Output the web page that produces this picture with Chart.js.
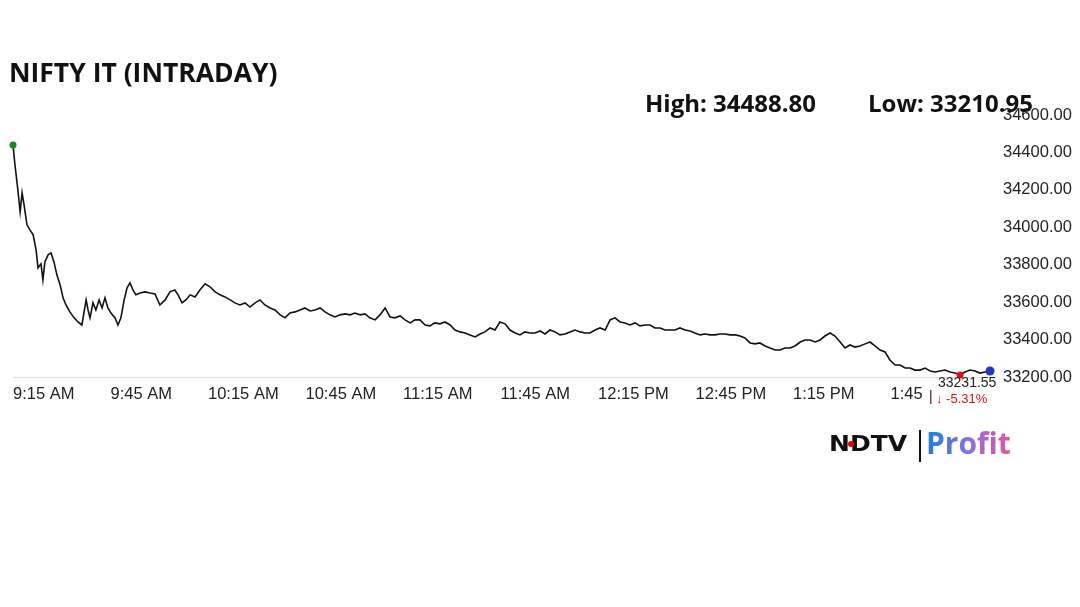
<!DOCTYPE html>
<html><head><meta charset="utf-8">
<script src="https://cdn.jsdelivr.net/npm/chart.js@4"></script>
<style>html,body{margin:0;padding:0;background:#fff}canvas{display:block}</style>
</head><body><canvas id="c" width="1080" height="607"></canvas>
<script>
const title = "NIFTY IT (INTRADAY)";
const highText = "High: 34488.80";
const lowText = "Low: 33210.95";
const lastPrice = "33231.55";
const changeText = "-5.31%";
const tickLabels = ["9:15 AM","9:45 AM","10:15 AM","10:45 AM","11:15 AM","11:45 AM","12:15 PM","12:45 PM","1:15 PM","1:45"];
// minutes after 9:15
const minutes = [0,0.6,1.5,2.2,2.8,3.4,4.3,5.2,6.2,7.1,7.7,8.6,9.2,9.8,10.8,11.7,12.6,13.5,14.5,15.4,16.3,17.5,18.8,20,21.2,22.5,23.1,23.7,24.6,25.5,26.5,27.4,28.3,29.2,30.2,31.4,32.3,33.2,34.2,35.1,36,36.9,37.8,39.1,40.6,42.2,43.7,45.2,46.8,48.3,49.8,50.8,52,53.2,54.5,56,57.5,
59.1,60.6,62.2,63.7,65.2,66.8,68.3,69.8,71.4,72.9,74.5,76,77.5,79.1,80.6,82.2,83.7,85.2,86.8,88.3,89.8,91.4,92.9,94.5,96,97.5,99.1,100.6,102.2,103.7,105.2,106.8,108.3,109.8,111.4,112.9,114.5,116,117.5,119.1,120.6,122.2,123.7,125.2,126.8,128.3,129.8,131.4,132.9,134.5,136,137.5,139.1,140.6,142.2,143.7,145.2,146.8,148.3,149.8,151.4,152.9,154.5,156,157.5,159.1,160.6,162.2,163.7,165.2,166.8,168.3,169.8,171.4,172.9,174.5,176,177.5,179.1,180.6,182.2,183.7,185.2,186.8,188.3,189.8,191.4,192.9,194.5,196,197.5,199.1,200.6,202.2,203.7,205.2,206.8,208.3,209.8,211.4,212.9,214.5,216,217.5,219.1,220.6,222.2,223.7,225.2,226.8,228.3,229.8,231.4,232.9,234.5,236,237.5,239.1,240.6,242.2,243.7,245.2,246.8,248.3,249.8,251.4,252.9,254.5,256,257.5,259.1,260.6,262.2,263.7,265.2,266.8,268.3,269.8,271.4,272.9,274.5,276,277.5,279.1,280.6,282.2,283.7,285.2,286.8,288.3,289.8,291.4,292.9,294.5,296,297.5,299.1,300.6];
const prices = [34440,34334,34200,34083,34184,34120,34013,33986,33960,33879,33783,33805,33719,33815,33853,33863,33815,33746,33692,33623,33585,33548,33516,33494,33478,33612,33558,33516,33596,33558,33612,33569,33623,33569,33540,33516,33478,33516,33612,33676,33703,33665,33639,33649,33655,33649,33644,33585,33612,33655,33665,33639,33596,33612,33639,33628,33665,
33698,33682,33655,33639,33628,33612,33596,33585,33596,33574,33596,33612,33585,33569,33558,33532,33516,33542,33548,33558,33569,33553,33558,33569,33548,33532,33521,33532,33537,33532,33542,33532,33537,33516,33505,33532,33569,33521,33516,33526,33505,33489,33505,33505,33478,33473,33489,33484,33494,33478,33451,33441,33435,33425,33414,33430,33441,33462,33451,33494,33484,33451,33435,33425,33441,33435,33435,33446,33430,33451,33441,33425,33430,33441,33451,33441,33435,33435,33451,33462,33451,33505,33516,33494,33489,33478,33489,33473,33478,33478,33462,33462,33451,33451,33451,33462,33451,33446,33435,33425,33430,33425,33425,33430,33430,33425,33425,33419,33409,33382,33377,33382,33366,33355,33344,33344,33355,33355,33366,33387,33398,33398,33387,33398,33419,33435,33419,33387,33355,33371,33360,33366,33377,33387,33366,33344,33334,33291,33264,33264,33248,33248,33237,33237,33248,33232,33227,33232,33237,33227,33221,33211,33227,33237,33232,33221,33227,33232];
const lowIndex = prices.indexOf(Math.min(...prices));

const annot = {
  id:'annot',
  afterDraw(ch){
    const c=ch.ctx;
    c.save();
    c.fillStyle='#111'; c.textBaseline='middle';
    c.font='bold 26.5px "Open Sans", sans-serif'; c.textAlign='left';
    c.fillText(title,9,74);
    c.font='bold 24px "Open Sans", sans-serif';
    c.fillText(highText,645,105); c.fillText(lowText,868,105);
    c.font='14px "Liberation Sans", Arial, sans-serif';
    c.fillStyle='#fff'; c.fillRect(928,384,70,26);
    c.fillStyle='#222'; c.fillText(lastPrice,938,383); c.fillText('|',929,397);
    c.fillStyle='#e01010'; c.font='13px "Liberation Sans", Arial, sans-serif';
    c.fillText('\u2193 '+changeText,936,399);
    // logo
    c.font='bold 25px "DejaVu Sans", sans-serif'; c.fillStyle='#111';
    c.save(); c.translate(829,445); c.scale(1.0,0.85); c.fillText('NDTV',0,0); c.restore();
    c.fillStyle='#e00'; c.beginPath(); c.arc(851,444,3,0,7); c.fill();
    c.fillStyle='#111'; c.fillRect(919,430,2,32);
    const g=c.createLinearGradient(927,0,1012,0); g.addColorStop(0,'#1e7fe0'); g.addColorStop(0.5,'#8a6ee8'); g.addColorStop(1,'#f0509a');
    c.fillStyle=g; c.font='bold 30px "Open Sans", sans-serif'; c.fillText('Profit',926,445);
    c.restore();
  }
};

new Chart(document.getElementById('c'),{
  type:'line',
  data:{datasets:[
    {data:[{x:minutes[0],y:prices[0]}],showLine:false,pointRadius:3.5,pointBackgroundColor:'#1a8a1a',pointBorderWidth:0,clip:false},
    {data:[{x:minutes[lowIndex],y:prices[lowIndex]}],showLine:false,pointRadius:3.5,pointBackgroundColor:'#e01010',pointBorderWidth:0,clip:false},
    {data:[{x:minutes[minutes.length-1],y:prices[prices.length-1]}],showLine:false,pointRadius:4.5,pointBackgroundColor:'#2233cc',pointBorderWidth:0,clip:false},
    {data:minutes.map((m,i)=>({x:m,y:prices[i]})),borderColor:'#111',borderWidth:1.6,pointRadius:0,tension:0,clip:false}
  ]},
  options:{responsive:false,animation:false,
    layout:{padding:{left:13,right:0,top:115,bottom:200}},
    plugins:{legend:{display:false},tooltip:{enabled:false}},
    scales:{
      x:{type:'linear',min:0,max:300.6,
        grid:{display:false,drawTicks:true,tickLength:4},
        border:{color:'#ddd'},
        afterFit(s){s.height=30;},
        afterBuildTicks(s){s.ticks=tickLabels.map((t,i)=>({value:i*30}));},
        ticks:{align:'start',maxRotation:0,autoSkip:false,color:'#222',font:{size:16.5,family:'"Liberation Sans", Arial'},padding:4,
          callback:(v,i)=>tickLabels[i]}},
      y:{position:'right',min:33200,max:34600,
        afterFit(s){s.width=90;},
        grid:{display:false},border:{display:false},
        ticks:{stepSize:200,color:'#222',padding:5,font:{size:16.5,family:'"Liberation Sans", Arial'},callback:v=>v.toFixed(2)}}
    }
  },
  plugins:[annot]
});
</script></body></html>
